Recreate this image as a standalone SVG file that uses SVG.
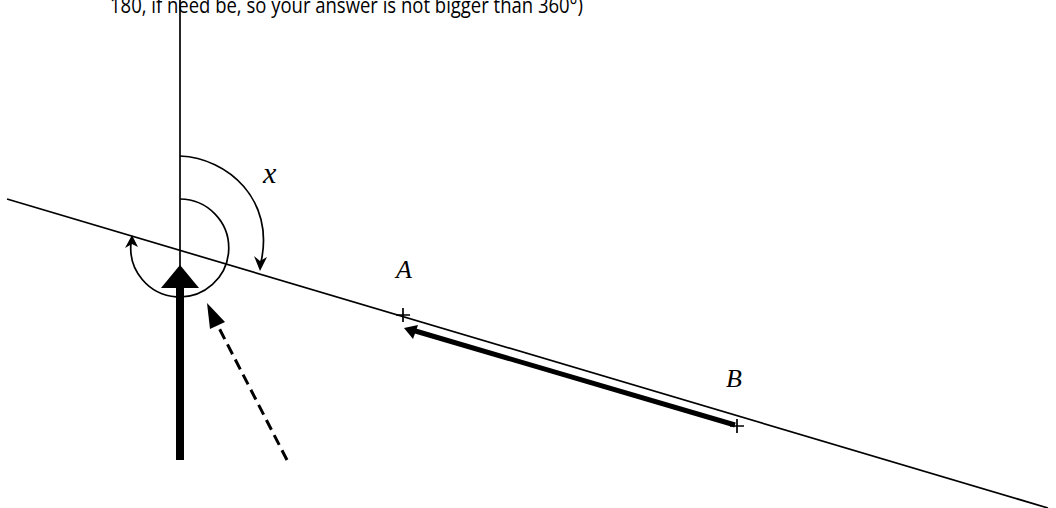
<svg xmlns="http://www.w3.org/2000/svg" width="1056" height="508" viewBox="0 0 1056 508">
<style>
.ln{stroke:#000;stroke-width:1.7;fill:none}
.lbl{font-family:"Liberation Serif",serif;font-style:italic;fill:#000}
.hdr{font-family:"Open Sans","Liberation Sans",sans-serif;font-size:22px;fill:#000}
</style>
<rect width="1056" height="508" fill="#fff"/>
<text class="hdr" x="110" y="13" textLength="473" lengthAdjust="spacingAndGlyphs">180, if need be, so your answer is not bigger than 360°)</text>
<g id="connectors">
<line class="ln" x1="180" y1="0" x2="180" y2="268"/>
<line class="ln" x1="7" y1="199" x2="1048" y2="508"/>
<path class="ln" d="M180,156 C228,158 275,200 261,262"/>
<polygon points="260,271 254,256 260,261 267,257" fill="#000"/>
<path class="ln" d="M180,199 A49,49 0 1 1 131,243"/>
<polygon points="132,235 125,248 132,244 138,247" fill="#000"/>
<polygon points="180,265 161,288 199,288" fill="#000"/>
<rect x="176" y="286" width="8" height="174" fill="#000"/>
<line x1="287" y1="460" x2="218" y2="326" stroke="#000" stroke-width="3" stroke-dasharray="11 6"/>
<polygon points="207,303 210,329 225,322" fill="#000"/>
<line x1="735" y1="425" x2="412" y2="330" stroke="#000" stroke-width="5"/>
<polygon points="404,328 418,325 413,339" fill="#000"/>
</g>
<g id="A"><path class="ln" d="M396,315 H410 M403,308 V322"/><text class="lbl" x="396" y="278" font-size="26">A</text></g>
<g id="B"><path class="ln" d="M730,426 H744 M737,419 V433"/><text class="lbl" x="726" y="387" font-size="26">B</text></g>
<g id="x"><text class="lbl" x="263" y="183" font-size="30">x</text></g>
</svg>
